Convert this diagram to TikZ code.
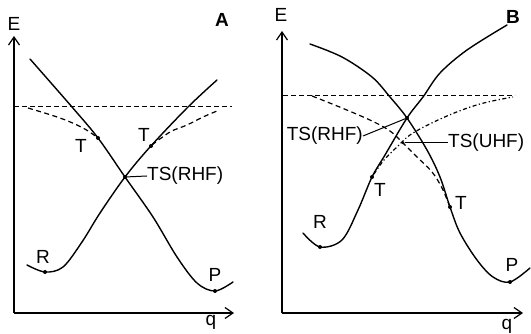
\documentclass[tikz,border=0pt]{standalone}
\usepackage{fontspec}
\setmainfont{Liberation Sans}
\usetikzlibrary{arrows.meta,positioning}

\begin{document}
\begin{tikzpicture}[x=1pt, y=-1pt,
  axis/.style={line width=1.2pt, -{Straight Barb[length=8pt, width=11pt, line width=1.2pt]}},
  pes/.style={line width=1.4pt, line cap=round},
  uhf/.style={line width=1.2pt, dash pattern=on 5pt off 3.5pt},
  uhfdot/.style={line width=1.2pt, dash pattern=on 4pt off 2.5pt on 1.2pt off 2.5pt},
  asym/.style={line width=1pt, dash pattern=on 5pt off 3pt},
  dotmark/.style={circle, fill=black, inner sep=0pt, minimum size=4pt},
  lbl/.style={font=\fontsize{19}{21}\selectfont, inner sep=0pt},
  panel/.style={font=\fontsize{19}{21}\selectfont\bfseries, inner sep=0pt},
  lead/.style={line width=1pt},
]
\useasboundingbox (0,0) rectangle (531,334);

%% ---- panel A ----
% axes
\coordinate (oA) at (14,313);
\draw[axis] (oA) -- (14,36);
\draw[axis] (oA) -- (234,313);
\node[lbl] (eA) at (14,24) {E};
\node[lbl] (qA) at (211,322) {q};
\node[panel] (labA) at (222,20) {A};

% dissociation limit
\draw[asym] (14,107) -- (232,107);

% diabatic curves
\draw[pes] plot[smooth, tension=0.55] coordinates
  {(27,265) (45,272) (63,267) (82,242) (100,213) (125,177) (150,147) (188,107) (217,80)};
\draw[pes] plot[smooth, tension=0.55] coordinates
  {(30,59) (72,107) (98,138) (125,177) (153,217) (177,257) (197,283) (215,291) (233,282)};

% UHF branches
\draw[uhf] plot[smooth, tension=0.6] coordinates
  {(28,108) (60,118) (83,128) (98,138)};
\draw[uhf] plot[smooth, tension=0.6] coordinates
  {(152,145) (170,132) (187,125) (203,117) (217,111)};

% points
\node[dotmark] (rA) at (45,272) {};
\node[dotmark] (pA) at (215,291) {};
\node[dotmark] (t1A) at (98,138) {};
\node[dotmark] (t2A) at (151,146) {};
\node[dotmark] (tsA) at (125,177) {};

\node[lbl] at (43,257) {R};
\node[lbl] at (215,275) {P};
\node[lbl] at (81,146) {T};
\node[lbl] at (144,135) {T};
\node[lbl, anchor=west] (tsAlbl) at (147,176) {TS(RHF)};
\draw[lead] (tsA) -- (tsAlbl.west);

%% ---- panel B ----
% axes
\coordinate (oB) at (282,313);
\draw[axis] (oB) -- (282,31);
\draw[axis] (oB) -- (523,313);
\node[lbl] (eB) at (281,15) {E};
\node[lbl] (qB) at (507,326) {q};
\node[panel] (labB) at (513,17) {B};

% dissociation limit
\draw[asym] (283,96) -- (515,96);

% diabatic curves
\draw[pes] plot[smooth, tension=0.55] coordinates
  {(310,44) (342,57) (372,77) (390,97) (407,118) (427,150) (440,177) (450,207) (460,233) (477,260) (493,277) (510,282) (530,268)};
\draw[pes] plot[smooth, tension=0.55] coordinates
  {(303,233) (320,247) (342,240) (358,210) (372,177) (385,155) (407,118) (423,97) (440,73) (467,50) (507,25)};

% UHF branches
\draw[uhf] plot[smooth, tension=0.6] coordinates
  {(312,96) (342,108) (372,121) (390,131) (403,143) (417,157) (432,172) (442,188) (450,207)};
\draw[uhfdot] plot[smooth, tension=0.6] coordinates
  {(374,174) (384,160) (397,147) (413,133) (447,116) (480,104) (513,97)};

% points
\node[dotmark] (rB) at (320,247) {};
\node[dotmark] (pB) at (510,282) {};
\node[dotmark] (t1B) at (372,177) {};
\node[dotmark] (t2B) at (450,207) {};
\node[dotmark] (tsB) at (407,118) {};
\node[dotmark, minimum size=3pt] (uhfB) at (403,143) {};

\node[lbl] at (320,222) {R};
\node[lbl] at (512,265) {P};
\node[lbl] at (380,190) {T};
\node[lbl] at (461,203) {T};
\node[lbl, anchor=east] (tsBlbl) at (363,136) {TS(RHF)};
\node[lbl, anchor=west] (uhfBlbl) at (448,143) {TS(UHF)};
\draw[lead] (tsBlbl.east) -- (tsB);
\draw[lead] (uhfB) -- (uhfBlbl.west);

\end{tikzpicture}
\end{document}
